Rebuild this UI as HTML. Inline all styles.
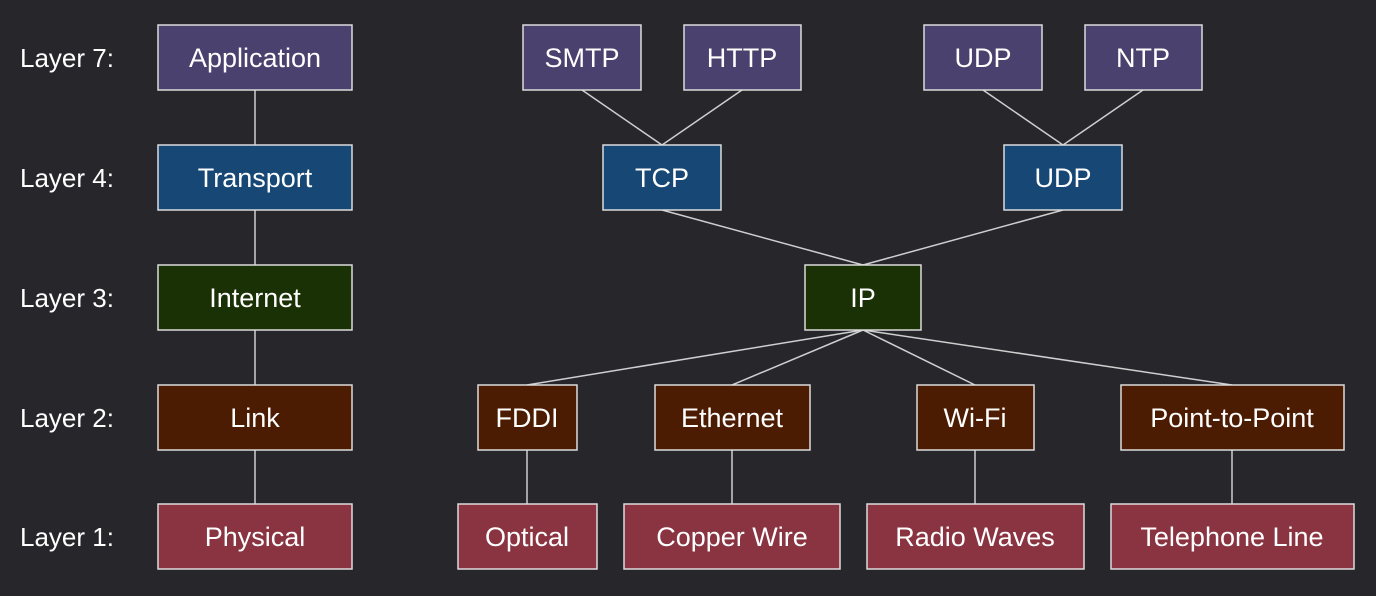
<!DOCTYPE html>
<html><head><meta charset="utf-8"><style>
body{margin:0;background:#27262b;width:1376px;height:596px;overflow:hidden;font-family:"Liberation Sans",sans-serif;}
svg{position:absolute;left:0;top:0}
</style></head><body>
<svg width="1376" height="596" viewBox="0 0 1376 596">
<g stroke="#cfcfcf" stroke-width="1.5" fill="none">
<line x1="255" y1="90" x2="255" y2="145"/><line x1="255" y1="210" x2="255" y2="265"/><line x1="255" y1="330" x2="255" y2="385"/><line x1="255" y1="450" x2="255" y2="504"/>
<line x1="582" y1="90" x2="662" y2="145"/><line x1="742" y1="90" x2="662" y2="145"/>
<line x1="983" y1="90" x2="1063" y2="145"/><line x1="1143" y1="90" x2="1063" y2="145"/>
<line x1="662" y1="210" x2="863" y2="265"/><line x1="1063" y1="210" x2="863" y2="265"/>
<line x1="863" y1="330" x2="527" y2="385"/><line x1="863" y1="330" x2="732" y2="385"/><line x1="863" y1="330" x2="975" y2="385"/><line x1="863" y1="330" x2="1232" y2="385"/>
<line x1="527" y1="450" x2="527" y2="504"/><line x1="732" y1="450" x2="732" y2="504"/><line x1="975" y1="450" x2="975" y2="504"/><line x1="1232" y1="450" x2="1232" y2="504"/>
</g>
<g stroke="#dcdcdc" stroke-width="1.5">
<rect x="158" y="25" width="194" height="65" fill="#4b416e"/>
<rect x="158" y="145" width="194" height="65" fill="#174774"/>
<rect x="158" y="265" width="194" height="65" fill="#1a3005"/>
<rect x="158" y="385" width="194" height="65" fill="#4b1c02"/>
<rect x="158" y="504" width="194" height="65" fill="#8a3442"/>
<rect x="523" y="25" width="118" height="65" fill="#4b416e"/>
<rect x="684" y="25" width="117" height="65" fill="#4b416e"/>
<rect x="924" y="25" width="118" height="65" fill="#4b416e"/>
<rect x="1085" y="25" width="117" height="65" fill="#4b416e"/>
<rect x="603" y="145" width="118" height="65" fill="#174774"/>
<rect x="1004" y="145" width="118" height="65" fill="#174774"/>
<rect x="805" y="265" width="116" height="65" fill="#1a3005"/>
<rect x="478" y="385" width="99" height="65" fill="#4b1c02"/>
<rect x="655" y="385" width="155" height="65" fill="#4b1c02"/>
<rect x="917" y="385" width="117" height="65" fill="#4b1c02"/>
<rect x="1121" y="385" width="223" height="65" fill="#4b1c02"/>
<rect x="458" y="504" width="139" height="65" fill="#8a3442"/>
<rect x="624" y="504" width="216" height="65" fill="#8a3442"/>
<rect x="867" y="504" width="217" height="65" fill="#8a3442"/>
<rect x="1111" y="504" width="243" height="65" fill="#8a3442"/>
</g>
<g fill="#ffffff" font-family="Liberation Sans, sans-serif" font-size="27" text-anchor="middle">
<text x="255" y="67">Application</text><text x="255" y="187">Transport</text><text x="255" y="307">Internet</text><text x="255" y="427">Link</text><text x="255" y="546">Physical</text>
<text x="582" y="67">SMTP</text><text x="742" y="67">HTTP</text><text x="983" y="67">UDP</text><text x="1143" y="67">NTP</text>
<text x="662" y="187">TCP</text><text x="1063" y="187">UDP</text><text x="863" y="307">IP</text>
<text x="527" y="427">FDDI</text><text x="732" y="427">Ethernet</text><text x="975" y="427">Wi-Fi</text><text x="1232" y="427">Point-to-Point</text>
<text x="527" y="546">Optical</text><text x="732" y="546">Copper Wire</text><text x="975" y="546">Radio Waves</text><text x="1232" y="546">Telephone Line</text>
</g>
<g fill="#ffffff" font-family="Liberation Sans, sans-serif" font-size="26">
<text x="20" y="67">Layer 7:</text><text x="20" y="187">Layer 4:</text><text x="20" y="307">Layer 3:</text><text x="20" y="427">Layer 2:</text><text x="20" y="546">Layer 1:</text>
</g>
</svg>
</body></html>
